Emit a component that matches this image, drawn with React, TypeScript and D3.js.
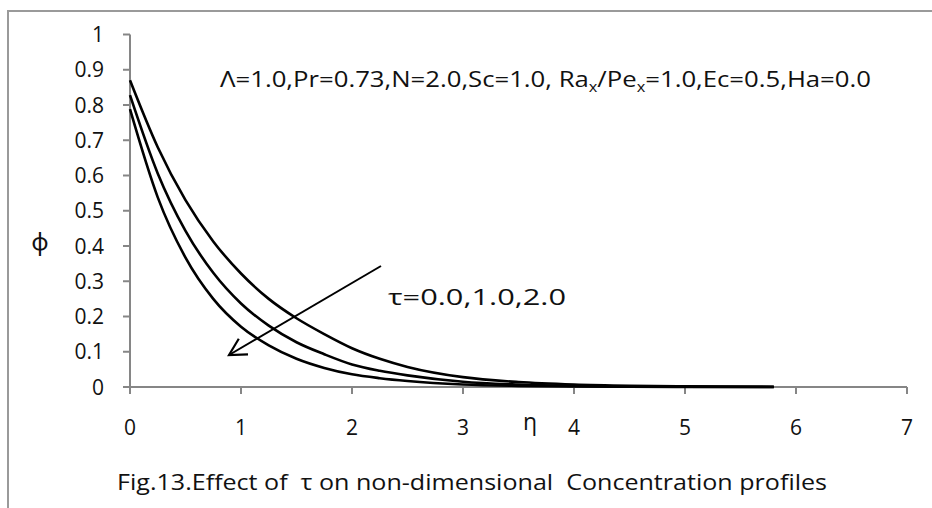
import React from "react";
import * as d3 from "d3";

const etaValues = [0, 0.25, 0.5, 0.75, 1, 1.25, 1.5, 1.75, 2, 2.25, 2.5, 3, 3.5, 4, 4.5, 5, 5.8];
const phiTau0 = [0.870, 0.680, 0.530, 0.413, 0.322, 0.250, 0.195, 0.150, 0.110, 0.080, 0.057, 0.028, 0.014, 0.007, 0.0035, 0.0018, 0.0005];
const phiTau1 = [0.828, 0.606, 0.443, 0.324, 0.237, 0.174, 0.127, 0.093, 0.064, 0.046, 0.033, 0.015, 0.007, 0.003, 0.0015, 0.0007, 0.0002];
const phiTau2 = [0.788, 0.538, 0.367, 0.250, 0.171, 0.118, 0.080, 0.054, 0.036, 0.025, 0.017, 0.007, 0.003, 0.0013, 0.0006, 0.0003, 0.0001];
const seriesList = [phiTau0, phiTau1, phiTau2];

const xTicks = [0, 1, 2, 3, 4, 5, 6, 7];
const yTicks = [0, 0.1, 0.2, 0.3, 0.4, 0.5, 0.6, 0.7, 0.8, 0.9, 1];

const FONT = "'Open Sans', 'Noto Sans', sans-serif";

export default function App() {
  const W = 932, H = 508;
  const x = d3.scaleLinear().domain([0, 7]).range([130, 907]);
  const y = d3.scaleLinear().domain([0, 1]).range([387, 34.5]);
  const line = d3
    .line<number>()
    .x((_, i) => x(etaValues[i]))
    .y((d) => y(d))
    .curve(d3.curveMonotoneX);

  const axisColor = "#868686";
  const tip: [number, number] = [229, 355];
  const tail: [number, number] = [381, 266];
  const ang = Math.atan2(tail[1] - tip[1], tail[0] - tip[0]);
  const headLen = 19;
  const spread = 0.5;
  const h1 = [tip[0] + headLen * Math.cos(ang - spread), tip[1] + headLen * Math.sin(ang - spread)];
  const h2 = [tip[0] + headLen * Math.cos(ang + spread), tip[1] + headLen * Math.sin(ang + spread)];

  return (
    <svg
      width={W}
      height={H}
      style={{ position: "absolute", left: 0, top: 0, display: "block", background: "#fff" }}
      fontFamily={FONT}
    >
      <rect x={0} y={0} width={W} height={H} fill="#fff" />
      {/* frame */}
      <line x1={8} y1={11} x2={W} y2={11} stroke="#9a9a9a" strokeWidth={2} />
      <line x1={8} y1={10} x2={8} y2={H} stroke="#9a9a9a" strokeWidth={2} />

      {/* y axis */}
      <line x1={x(0)} y1={y(1)} x2={x(0)} y2={y(0)} stroke={axisColor} strokeWidth={2} />
      {yTicks.map((t) => (
        <g key={"y" + t}>
          <line x1={x(0) - 7} x2={x(0)} y1={y(t)} y2={y(t)} stroke={axisColor} strokeWidth={2} />
          <text x={104} y={y(t) + 7.5} textAnchor="end" fontSize={21} fill="#111">
            {String(Math.round(t * 10) / 10)}
          </text>
        </g>
      ))}

      {/* x axis */}
      <line x1={x(0)} y1={y(0)} x2={x(7)} y2={y(0)} stroke={axisColor} strokeWidth={2} />
      {xTicks.map((t) => (
        <g key={"x" + t}>
          <line x1={x(t)} x2={x(t)} y1={y(0)} y2={y(0) + 7} stroke={axisColor} strokeWidth={2} />
          <text x={x(t)} y={435} textAnchor="middle" fontSize={21} fill="#111">
            {String(t)}
          </text>
        </g>
      ))}

      {/* curves */}
      {seriesList.map((s, i) => (
        <path key={i} d={line(s) || ""} fill="none" stroke="#000" strokeWidth={2.6} />
      ))}

      {/* arrow */}
      <line x1={tail[0]} y1={tail[1]} x2={tip[0]} y2={tip[1]} stroke="#000" strokeWidth={2} />
      <polyline
        points={`${h1[0]},${h1[1]} ${tip[0]},${tip[1]} ${h2[0]},${h2[1]}`}
        fill="none"
        stroke="#000"
        strokeWidth={2.2}
      />

      {/* annotations */}
      <text x={220} y={87} fontSize={22} fill="#111" textLength={651} lengthAdjust="spacingAndGlyphs">
        Λ=1.0,Pr=0.73,N=2.0,Sc=1.0, Ra
        <tspan fontSize={14} dy={5}>x</tspan>
        <tspan dy={-5}>/Pe</tspan>
        <tspan fontSize={14} dy={5}>x</tspan>
        <tspan dy={-5}>=1.0,Ec=0.5,Ha=0.0</tspan>
      </text>
      <text x={388} y={305} fontSize={21} fill="#111" textLength={178} lengthAdjust="spacingAndGlyphs">
        τ=0.0,1.0,2.0
      </text>
      <text x={40} y={250} textAnchor="middle" fontSize={24} fill="#111">ϕ</text>
      <text x={530} y={430} textAnchor="middle" fontSize={23} fill="#111">η</text>
      <text
        x={117}
        y={490}
        fontSize={21}
        fill="#111"
        textLength={710}
        lengthAdjust="spacingAndGlyphs"
        style={{ whiteSpace: "pre" }}
      >
        {"Fig.13.Effect of  τ on non-dimensional  Concentration profiles"}
      </text>
    </svg>
  );
}
